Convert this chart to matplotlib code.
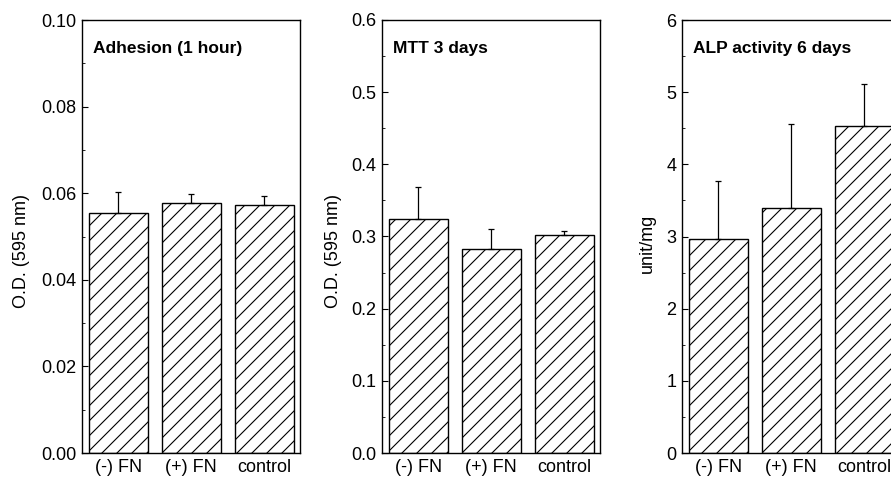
import matplotlib
matplotlib.use("Agg")
import matplotlib.pyplot as plt
from matplotlib.ticker import MultipleLocator, FormatStrFormatter

plt.rcParams['font.family'] = ['Liberation Sans', 'DejaVu Sans']

# hatch spacing follows dpi, so render at 90 dpi and scale sizes up to match
DPI = 90
S = 100 / DPI
plt.rcParams['hatch.linewidth'] = 0.8 * S

groups = ["(-) FN", "(+) FN", "control"]

adhesion = [0.0554, 0.0577, 0.0573]
adhesion_err = [0.0048, 0.0020, 0.0021]

mtt = [0.324, 0.282, 0.302]
mtt_err = [0.044, 0.028, 0.006]

alp = [2.96, 3.39, 4.535]
alp_err = [0.81, 1.17, 0.575]

panels = [
    # title, values, errors, ylim top, major, minor, fmt, ylabel, ylabel x, ylabel y
    ("Adhesion (1 hour)", adhesion, adhesion_err, 0.10, 0.02, 0.01, "%.2f", "O.D. (595 nm)", -0.276, 0.467),
    ("MTT 3 days", mtt, mtt_err, 0.6, 0.1, 0.05, "%.1f", "O.D. (595 nm)", -0.222, 0.467),
    ("ALP activity 6 days", alp, alp_err, 6, 1, 0.5, "%d", "unit/mg", -0.157, 0.483),
]

W, H = 891, 478
fig = plt.figure(figsize=(W / DPI, H / DPI), dpi=DPI)

x = range(len(groups))
for i, (title, vals, errs, top, major, minor, fmt, ylab, labx, laby) in enumerate(panels):
    left = 82 + 300 * i
    ax = fig.add_axes([left / W, 25 / H, 218 / W, 433 / H])
    ax.bar(x, vals, width=0.81, color="white", edgecolor="black",
           hatch="//", linewidth=1.0 * S, zorder=2)
    ax.errorbar(x, vals, yerr=[[0] * len(vals), errs], fmt="none",
                ecolor="black", elinewidth=0.9 * S, capsize=2 * S, capthick=0.9 * S, zorder=3)
    ax.set_xlim(-0.5, 2.49)
    ax.set_ylim(0, top)
    ax.set_xticks(list(x))
    ax.set_xticklabels(groups, fontsize=13 * S)
    ax.tick_params(axis="x", length=0, pad=4 * S)
    ax.yaxis.set_major_locator(MultipleLocator(major))
    ax.yaxis.set_minor_locator(MultipleLocator(minor))
    ax.yaxis.set_major_formatter(FormatStrFormatter(fmt))
    ax.tick_params(axis="y", which="major", direction="in", length=4 * S, width=0.8 * S,
                   labelsize=13 * S, pad=4 * S)
    ax.tick_params(axis="y", which="minor", direction="in", length=2 * S, width=0.6 * S)
    ax.set_ylabel(ylab, fontsize=13 * S, va="center")
    ax.yaxis.set_label_coords(labx, laby)
    for sp in ax.spines.values():
        sp.set_linewidth(1.0 * S)
    ax.text(0.05, 0.935, title, transform=ax.transAxes, fontsize=12.5 * S,
            fontweight="bold", va="center", ha="left")

fig.savefig("out.png", dpi=DPI)
